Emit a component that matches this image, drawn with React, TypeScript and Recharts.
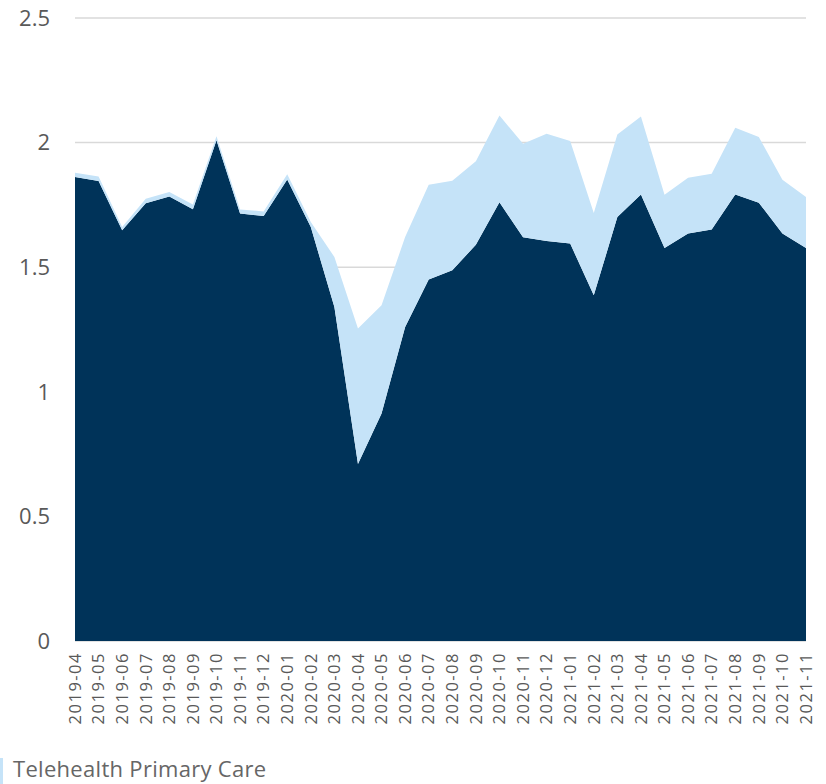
import { AreaChart, Area, XAxis, YAxis, CartesianGrid, Legend } from "recharts";

const months = [
  "2019-04", "2019-05", "2019-06", "2019-07", "2019-08", "2019-09", "2019-10", "2019-11",
  "2019-12", "2020-01", "2020-02", "2020-03", "2020-04", "2020-05", "2020-06", "2020-07",
  "2020-08", "2020-09", "2020-10", "2020-11", "2020-12", "2021-01", "2021-02", "2021-03",
  "2021-04", "2021-05", "2021-06", "2021-07", "2021-08", "2021-09", "2021-10", "2021-11",
];

const inPerson = [
  1.862, 1.846, 1.648, 1.757, 1.784, 1.733, 2.009, 1.715,
  1.705, 1.852, 1.661, 1.34, 0.71, 0.913, 1.26, 1.451,
  1.488, 1.59, 1.761, 1.62, 1.605, 1.595, 1.387, 1.701,
  1.792, 1.577, 1.635, 1.651, 1.792, 1.759, 1.635, 1.577,
];

const telehealth = [
  0.017, 0.018, 0.013, 0.018, 0.018, 0.019, 0.016, 0.017,
  0.019, 0.021, 0.02, 0.201, 0.544, 0.434, 0.361, 0.38,
  0.359, 0.335, 0.348, 0.375, 0.431, 0.411, 0.33, 0.332,
  0.313, 0.214, 0.224, 0.224, 0.268, 0.263, 0.216, 0.205,
];

const yTicks = [0, 0.5, 1, 1.5, 2, 2.5];

const DARK = "#003359";
const LIGHT = "#c5e3f8";
const FONT = "'Open Sans', sans-serif";

const data = months.map((m, i) => ({
  month: m,
  inPerson: inPerson[i],
  telehealth: telehealth[i],
}));

function MonthTick(props: any) {
  const { x, y, payload } = props;
  return (
    <g transform={`translate(${x},${y})`}>
      <text
        transform="rotate(-90)"
        x={-3}
        y={0}
        dy="0.35em"
        textAnchor="end"
        fill="#595959"
        fontSize={16.5}
        letterSpacing={1.5}
        fontFamily={FONT}
      >
        {payload.value}
      </text>
    </g>
  );
}

// only the telehealth entry shows, its swatch is mostly off the left edge
function TeleLegend() {
  return (
    <div style={{ position: "relative", height: 34, fontFamily: FONT }}>
      <span
        style={{ position: "absolute", left: 0, top: 8, width: 3, height: 26, background: LIGHT }}
      />
      <span
        style={{
          position: "absolute",
          left: 13,
          top: 3,
          fontSize: 22,
          lineHeight: "30px",
          letterSpacing: 0.3,
          color: "#666666",
          whiteSpace: "nowrap",
        }}
      >
        Telehealth Primary Care
      </span>
    </div>
  );
}

export default function App() {
  return (
    <div
      style={{
        position: "absolute",
        top: 0,
        left: 0,
        width: 826,
        height: 784,
        overflow: "hidden",
        background: "#fff",
      }}
    >
      <AreaChart
        width={826}
        height={784}
        data={data}
        margin={{ top: 18, right: 20, left: 15, bottom: 26 }}
      >
        <CartesianGrid horizontal vertical={false} stroke="#d9d9d9" strokeWidth={1.5} />
        <XAxis
          dataKey="month"
          tick={<MonthTick />}
          interval={0}
          tickLine={false}
          axisLine={false}
          height={83}
        />
        <YAxis
          domain={[0, 2.5]}
          ticks={yTicks}
          tick={{ fontSize: 22, fill: "#595959", fontFamily: FONT }}
          tickLine={false}
          axisLine={false}
          tickMargin={19}
          width={60}
        />
        <Legend
          verticalAlign="bottom"
          align="left"
          content={() => <TeleLegend />}
          wrapperStyle={{ left: 0, bottom: 0 }}
        />
        <Area
          type="linear"
          dataKey="inPerson"
          name="In-Person Primary Care"
          stackId="a"
          stroke="none"
          fill={DARK}
          fillOpacity={1}
          isAnimationActive={false}
        />
        <Area
          type="linear"
          dataKey="telehealth"
          name="Telehealth Primary Care"
          stackId="a"
          stroke="none"
          fill={LIGHT}
          fillOpacity={1}
          isAnimationActive={false}
        />
      </AreaChart>
    </div>
  );
}
